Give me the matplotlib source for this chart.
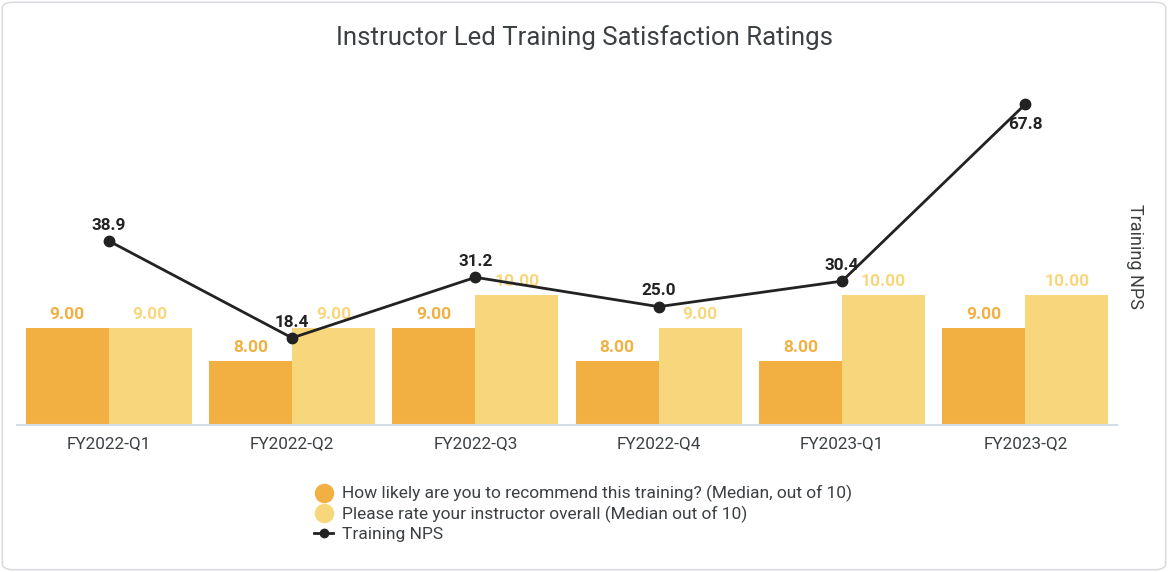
import matplotlib.pyplot as plt
import numpy as np
from matplotlib.lines import Line2D
from matplotlib.patches import FancyBboxPatch

plt.rcParams["font.family"] = ["Roboto", "DejaVu Sans"]

quarters = ["FY2022-Q1", "FY2022-Q2", "FY2022-Q3", "FY2022-Q4", "FY2023-Q1", "FY2023-Q2"]
recommend = [9.0, 8.0, 9.0, 8.0, 8.0, 9.0]
instructor = [9.0, 9.0, 10.0, 9.0, 10.0, 10.0]
nps = [38.9, 18.4, 31.2, 25.0, 30.4, 67.8]

series_names = [
    "How likely are you to recommend this training? (Median, out of 10)",
    "Please rate your instructor overall (Median out of 10)",
    "Training NPS",
]

c_dark = "#F2B042"
c_light = "#F8D77C"
c_line = "#222222"
c_text = "#3c4043"

fig = plt.figure(figsize=(11.68, 5.72), dpi=100)
ax = fig.add_axes([0.0146, 0.257, 0.9418, 0.6206])
ax2 = ax.twinx()

x = np.arange(len(quarters))
w = 0.453
b1 = ax.bar(x - w / 2, recommend, w, color=c_dark, zorder=2)
b2 = ax.bar(x + w / 2, instructor, w, color=c_light, zorder=2)
ax.bar_label(b1, fmt="%.2f", padding=4, color=c_dark, fontsize=12.5, fontweight="bold")
ax.bar_label(b2, fmt="%.2f", padding=4, color=c_light, fontsize=12.5, fontweight="bold")

ax.set_ylim(6.06, 16.82)
ax.set_xlim(-0.5, 5.5)
ax.set_xticks(x)
ax.set_xticklabels(quarters, fontsize=12.3, color=c_text)
ax.tick_params(axis="x", length=0, pad=8)
ax.set_yticks([])
for s in ["top", "left", "right"]:
    ax.spines[s].set_visible(False)
ax.spines["bottom"].set_color("#d4dbe8")
ax.spines["bottom"].set_linewidth(1.5)

ax2.plot(x, nps, color=c_line, lw=2, marker="o", ms=7.5, zorder=3)
ax2.set_ylim(0, 75)
ax2.set_yticks([])
for s in ax2.spines.values():
    s.set_visible(False)
for xi, v in zip(x, nps):
    if v == max(nps):
        ax2.annotate(f"{v:.1f}", (xi, v), xytext=(0, -9), textcoords="offset points",
                     ha="center", va="top", fontsize=12.3, fontweight="bold", color=c_line)
    else:
        ax2.annotate(f"{v:.1f}", (xi, v), xytext=(0, 6), textcoords="offset points",
                     ha="center", va="bottom", fontsize=12.3, fontweight="bold", color=c_line)

fig.text(0.5, 0.935, "Instructor Led Training Satisfaction Ratings", ha="center",
         va="center", fontsize=18.5, color=c_text)
fig.text(0.972, 0.551, "Training NPS", rotation=-90, ha="center", va="center",
         fontsize=13, color=c_text)

handles = [
    Line2D([], [], ls="none", marker="o", ms=13, color=c_dark),
    Line2D([], [], ls="none", marker="o", ms=13, color=c_light),
    Line2D([], [], color=c_line, lw=2, marker="o", ms=6),
]
fig.legend(handles, series_names, loc="upper left", bbox_to_anchor=(0.2615, 0.167),
           frameon=False, fontsize=12.5, labelcolor=c_text, handlelength=1.1,
           handletextpad=0.5, labelspacing=0.2, borderpad=0)

fig.patches.append(FancyBboxPatch((0.002, 0.004), 0.996, 0.992, boxstyle="round,pad=0,rounding_size=0.01",
                                  transform=fig.transFigure, fill=False, ec="#dadce0", lw=1.2))

fig.savefig("out.png", dpi=100)
